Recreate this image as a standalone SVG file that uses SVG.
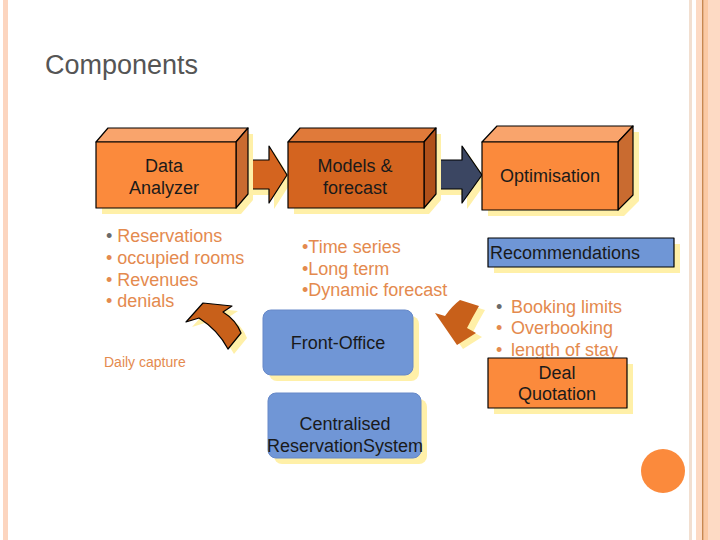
<svg xmlns="http://www.w3.org/2000/svg" width="720" height="540" viewBox="0 0 720 540">
<defs>
<style>
.t{font-family:"Liberation Sans",Arial,sans-serif;}
.box{font-size:18px;fill:#1a1a1a;text-anchor:middle;}
.li{font-size:18px;fill:#e48a4e;}
.bul{fill:#6a6a6a;}
.sh{fill:#fff0a8;}
.edge{stroke:#000;stroke-width:1.2;stroke-linejoin:round;}
</style>
</defs>
<rect width="720" height="540" fill="#fff"/>
<!-- frame -->
<rect x="3" y="0" width="5" height="540" fill="#fcd5bf"/>
<rect x="689" y="0" width="3" height="540" fill="#f2dfd0"/>
<rect x="696" y="0" width="24" height="540" fill="#fddac4"/>
<rect x="702" y="0" width="1.5" height="540" fill="#c98850"/>
<rect x="704" y="0" width="4" height="540" fill="#fbc9a4"/>
<text class="t" x="45" y="74" font-size="27" fill="#555">Components</text>

<g id="connectors">
  <!-- block arrow 1 -->
  <path class="sh" d="M245,166 H274 V152 L292,181 L274,209 V195 H245 Z"/>
  <path class="edge" fill="#d4641f" d="M240,160 H269 V146 L287,175 L269,203 V189 H240 Z"/>
  <!-- block arrow 2 -->
  <path class="sh" d="M441,166 H467 V152 L487,181 L467,209 V195 H441 Z"/>
  <path class="edge" fill="#3b4662" d="M436,160 H462 V146 L482,175 L462,203 V189 H436 Z"/>
  <!-- curved arrow left -->
  <path class="sh" d="M192,327 L209,308 L238,311 L229,317 Q242,325 247,338 L234,354 Q224,335 205,323 Z"/>
  <path class="edge" fill="#c8601a" d="M186,322 L203,303 L232,306 L223,312 Q236,320 241,333 L228,349 Q218,330 199,318 Z"/>
  <!-- curved arrow right -->
  <path class="sh" d="M466,304 L485,310 Q478,322 473,332 L482,337 L463,349 L441,317 L451,320 Q458,310 466,304 Z"/>
  <path fill="#c8601a" d="M460,300 L479,306 Q472,318 467,328 L476,333 L457,345 L435,313 L445,316 Q452,306 460,300 Z"/>
</g>

<g id="data-analyzer">
  <path class="sh" d="M102,148 L114,134 H253 V200 L241,214 H102 Z"/>
  <path class="edge" fill="#f9a46c" d="M96,142 L108,128 H248 L236,142 Z"/>
  <path class="edge" fill="#c96b30" d="M236,142 L248,128 V194 L236,208 Z"/>
  <rect class="edge" x="96" y="142" width="140" height="66" fill="#fb8a3c"/>
  <text class="t box" x="164" y="172">Data</text>
  <text class="t box" x="164" y="194">Analyzer</text>
</g>

<g id="models-forecast">
  <path class="sh" d="M294,148 L306,134 H441 V200 L429,214 H294 Z"/>
  <path class="edge" fill="#e07a3a" d="M288,142 L300,128 H436 L424,142 Z"/>
  <path class="edge" fill="#b0501a" d="M424,142 L436,128 V194 L424,208 Z"/>
  <rect class="edge" x="288" y="142" width="136" height="66" fill="#d4641f"/>
  <text class="t box" x="355" y="172">Models &amp;</text>
  <text class="t box" x="355" y="194">forecast</text>
</g>

<g id="optimisation">
  <path class="sh" d="M488,148 L503,132 H639 V201 L624,216 H488 Z"/>
  <path class="edge" fill="#f9a46c" d="M482,142 L497,126 H633 L618,142 Z"/>
  <path class="edge" fill="#c96b30" d="M618,142 L633,126 V195 L618,210 Z"/>
  <rect class="edge" x="482" y="142" width="136" height="68" fill="#fb8a3c"/>
  <text class="t box" x="550" y="182">Optimisation</text>
</g>

<g id="recommendations">
  <rect class="sh" x="494" y="244" width="186" height="29"/>
  <rect class="edge" x="488" y="238" width="186" height="29" fill="#6f96d6"/>
  <text class="t" x="490" y="259" font-size="18" fill="#1a1a1a">Recommendations</text>
</g>

<g id="data-list">
  <text class="t li" x="106" y="242"><tspan class="bul">•</tspan> Reservations</text>
  <text class="t li" x="106" y="264">• occupied rooms</text>
  <text class="t li" x="106" y="286">• Revenues</text>
  <text class="t li" x="106" y="307">• denials</text>
  <text class="t" x="104" y="367" font-size="14" fill="#e48a4e">Daily capture</text>
</g>

<g id="models-list">
  <text class="t li" x="302" y="253">•Time series</text>
  <text class="t li" x="302" y="275">•Long term</text>
  <text class="t li" x="302" y="296">•Dynamic forecast</text>
</g>

<g id="front-office">
  <rect class="sh" x="269" y="316" width="150" height="65" rx="8"/>
  <rect x="263" y="310" width="150" height="65" rx="8" fill="#7096d6" stroke="#6688c8" stroke-width="1"/>
  <text class="t box" x="338" y="349">Front-Office</text>
</g>

<g id="crs">
  <rect class="sh" x="274" y="399" width="153" height="65" rx="8"/>
  <rect x="268" y="393" width="153" height="65" rx="8" fill="#7096d6" stroke="#6688c8" stroke-width="1"/>
  <text class="t box" x="345" y="430">Centralised</text>
  <text class="t box" x="345" y="452">ReservationSystem</text>
</g>

<g id="opt-list">
  <text class="t li" x="496" y="313"><tspan class="bul">•</tspan><tspan x="511">Booking limits</tspan></text>
  <text class="t li" x="496" y="334">•<tspan x="511">Overbooking</tspan></text>
  <text class="t li" x="496" y="356">•<tspan x="511">length of stay</tspan></text>
</g>

<g id="deal-quotation">
  <rect class="sh" x="494" y="364" width="139" height="50"/>
  <rect class="edge" x="488" y="358" width="139" height="50" fill="#fb8a3c"/>
  <text class="t box" x="557" y="379">Deal</text>
  <text class="t box" x="557" y="400">Quotation</text>
</g>

<circle cx="663" cy="471" r="22" fill="#fb8a3c"/>
</svg>
